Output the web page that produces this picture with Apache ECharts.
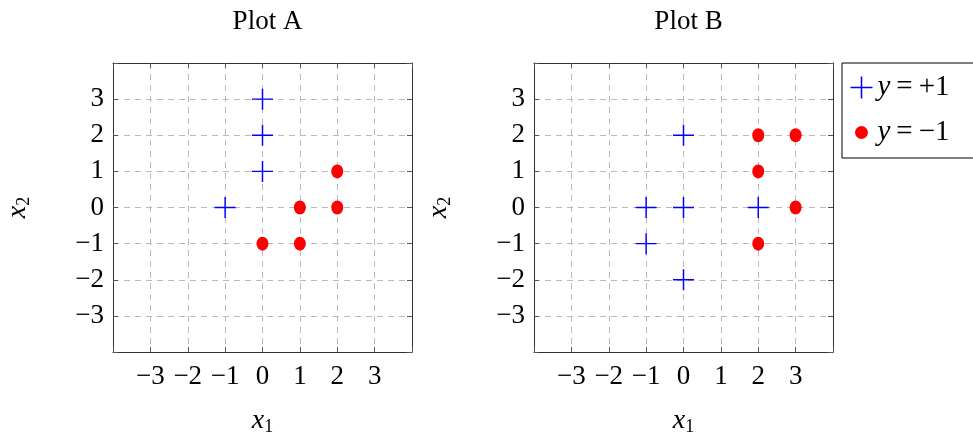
<!DOCTYPE html>
<html>
<head>
<meta charset="utf-8">
<script src="https://cdn.jsdelivr.net/npm/echarts@6/dist/echarts.min.js"></script>
<style>
    html, body { margin: 0; padding: 0; background: #fff; }
    #chart { width: 973px; height: 438px; }
</style>
</head>
<body>
<div id="chart"></div>
<script>
// data, [x1, x2]
const plotAPos = [[0, 3], [0, 2], [0, 1], [-1, 0]];
const plotANeg = [[2, 1], [1, 0], [2, 0], [0, -1], [1, -1]];
const plotBPos = [[0, 2], [-1, 0], [0, 0], [2, 0], [-1, -1], [0, -2]];
const plotBNeg = [[2, 2], [3, 2], [2, 1], [3, 0], [2, -1]];
const plotTitles = ['Plot A', 'Plot B'];
const seriesNames = ['y = +1', 'y = −1'];
const axisMin = -4;
const axisMax = 4;

const FONT = '"Liberation Serif", "DejaVu Serif", serif';
const PLUS = 'path://M9.3,0h1.4v9.3h9.3v1.4h-9.3v9.3h-1.4v-9.3h-9.3v-1.4h9.3z';

window.onload = () => {
    let chart = echarts.init(document.getElementById('chart'));

    let tickLabel = v => {
        if (Math.abs(v) === 4) return '';
        return v < 0 ? '−' + (-v) : String(v);
    };

    let grids = [
        {left: 113, top: 63, width: 299, height: 289, containLabel: false, outerBoundsMode: 'none'},
        {left: 534, top: 63, width: 299, height: 289, containLabel: false, outerBoundsMode: 'none'}
    ];

    let nameRich = {
        i: {fontFamily: FONT, fontStyle: 'italic', fontSize: 28, color: '#000'},
        s: {fontFamily: FONT, fontSize: 18, color: '#000', padding: [12, 0, 0, 0]}
    };

    let xAxes = [];
    let yAxes = [];
    grids.forEach((g, i) => {
        xAxes.push({
            gridIndex: i, type: 'value', min: axisMin, max: axisMax, interval: 1,
            position: 'bottom',
            name: '{i|x}{s|1}', nameLocation: 'middle', nameGap: 54,
            nameTextStyle: {rich: nameRich},
            axisLine: {show: true, onZero: false, lineStyle: {color: '#333', width: 1}},
            axisTick: {show: true, inside: true, length: 5, lineStyle: {color: '#555'}},
            axisLabel: {formatter: tickLabel, fontFamily: FONT, fontSize: 27, color: '#000', margin: 11},
            splitLine: {show: true, lineStyle: {color: '#bbb', type: [6, 5], width: 1}}
        });
        xAxes.push({
            gridIndex: i, type: 'value', min: axisMin, max: axisMax, interval: 1,
            position: 'top',
            axisLine: {show: true, onZero: false, lineStyle: {color: '#333', width: 1}},
            axisTick: {show: true, inside: true, length: 5, lineStyle: {color: '#555'}},
            axisLabel: {show: false},
            splitLine: {show: false}
        });
        yAxes.push({
            gridIndex: i, type: 'value', min: axisMin, max: axisMax, interval: 1,
            position: 'left',
            name: '{i|x}{s|2}', nameLocation: 'middle', nameGap: 80, nameRotate: 90,
            nameTextStyle: {rich: nameRich},
            axisLine: {show: true, onZero: false, lineStyle: {color: '#333', width: 1}},
            axisTick: {show: true, inside: true, length: 5, lineStyle: {color: '#555'}},
            axisLabel: {formatter: tickLabel, fontFamily: FONT, fontSize: 27, color: '#000', margin: 9},
            splitLine: {show: true, lineStyle: {color: '#bbb', type: [6, 5], width: 1}}
        });
        yAxes.push({
            gridIndex: i, type: 'value', min: axisMin, max: axisMax, interval: 1,
            position: 'right',
            axisLine: {show: true, onZero: false, lineStyle: {color: '#333', width: 1}},
            axisTick: {show: true, inside: true, length: 5, lineStyle: {color: '#555'}},
            axisLabel: {show: false},
            splitLine: {show: false}
        });
    });

    let makeSeries = (name, data, idx, pos) => ({
        name: name,
        type: 'scatter',
        xAxisIndex: idx * 2,
        yAxisIndex: idx * 2,
        data: data,
        symbol: pos ? PLUS : 'circle',
        symbolSize: pos ? 21 : [12, 14],
        itemStyle: {color: pos ? '#0000ff' : '#ff0000', opacity: 1},
        emphasis: {disabled: true},
        z: 5
    });

    let legendRich = {
        i: {fontFamily: FONT, fontStyle: 'italic', fontSize: 29, color: '#000'},
        o: {fontFamily: FONT, fontSize: 29, color: '#000', padding: [0, 6, 0, 6]}
    };

    let option = {
        backgroundColor: '#fff',
        animation: false,
        title: plotTitles.map((t, i) => ({
            text: t,
            left: grids[i].left + grids[i].width / 2,
            top: 3,
            textAlign: 'center',
            textStyle: {fontFamily: FONT, fontWeight: 'normal', fontSize: 27, color: '#000'}
        })),
        legend: {
            left: 842,
            top: 63,
            orient: 'vertical',
            padding: [10, 30, 10, 4],
            itemGap: 15,
            itemWidth: 22,
            itemHeight: 22,
            borderColor: '#000',
            borderWidth: 1,
            borderRadius: 0,
            data: [
                {name: seriesNames[0], icon: PLUS, itemStyle: {color: '#0000ff'}},
                {name: seriesNames[1], icon: 'circle',
                    itemStyle: {color: '#ff0000', borderColor: '#fff', borderWidth: 9}}
            ],
            formatter: n => n === seriesNames[0] ? '{i|y}{o|=}+1' : '{i|y}{o|=}−1',
            textStyle: {fontFamily: FONT, fontSize: 29, color: '#000', rich: legendRich},
            selectedMode: false
        },
        grid: grids,
        xAxis: xAxes,
        yAxis: yAxes,
        series: [
            makeSeries(seriesNames[0], plotAPos, 0, true),
            makeSeries(seriesNames[1], plotANeg, 0, false),
            makeSeries(seriesNames[0], plotBPos, 1, true),
            makeSeries(seriesNames[1], plotBNeg, 1, false)
        ]
    };

    chart.setOption(option);
};
</script>
</body>
</html>
